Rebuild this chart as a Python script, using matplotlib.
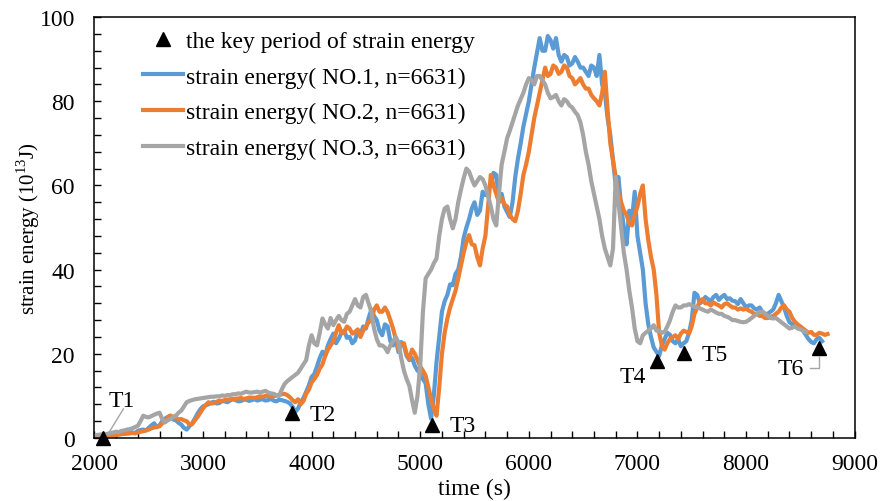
import numpy as np
import matplotlib
matplotlib.use("Agg")
import matplotlib.pyplot as plt
from matplotlib.ticker import MultipleLocator

plt.rcParams['font.family'] = ['Liberation Serif', 'DejaVu Serif']
plt.rcParams['mathtext.fontset'] = 'custom'
plt.rcParams['mathtext.rm'] = 'Liberation Serif'

# strain energy series (10^13 J), sampled every 25 s from t = 2000 s
t_start, t_step = 2000, 25
energy_no1 = [
    0.3, 0.5, 0.6, 0.4, 0.8, 0.9, 1.0, 0.8, 0.9, 1.1, 1.2, 1.0, 1.4, 1.5, 1.3, 1.2, 1.7, 1.9, 2.0, 1.8,
    2.4, 3.0, 3.5, 2.6, 3.0, 4.0, 4.6, 5.0, 5.3, 4.4, 4.2, 3.6, 3.2, 2.4, 2.0, 2.8, 3.5, 4.6, 5.8, 6.8,
    7.5, 7.8, 8.0, 8.4, 8.6, 8.2, 8.3, 8.8, 8.7, 8.5, 8.9, 9.2, 9.0, 8.7, 8.8, 9.1, 9.1, 8.8, 9.0, 9.2,
    8.9, 9.1, 9.2, 8.9, 9.0, 9.3, 8.9, 8.7, 9.1, 9.0, 8.8, 8.6, 8.2, 7.4, 6.2, 7.0, 8.5, 9.5, 11.0, 12.5,
    14.5, 15.2, 17.0, 19.0, 20.5, 19.6, 22.0, 23.5, 24.8, 22.5, 23.6, 25.0, 25.5, 23.8, 24.0, 22.5, 23.2, 25.5, 24.6, 26.5,
    26.0, 28.5, 30.5, 29.0, 28.0, 25.5, 24.4, 27.0, 26.5, 23.0, 22.0, 23.5, 20.4, 22.8, 22.0, 19.5, 18.5, 19.0, 17.2, 16.0,
    15.5, 14.0, 13.0, 8.0, 4.6, 10.0, 18.0, 24.0, 30.0, 32.5, 34.0, 36.5, 36.3, 39.0, 40.0, 43.0, 47.5, 50.0, 52.0, 54.5,
    56.0, 53.0, 54.0, 58.5, 57.7, 59.0, 60.0, 63.0, 62.5, 57.0, 58.0, 55.0, 53.7, 52.5, 56.0, 62.0, 66.4, 70.0, 74.0, 77.0,
    80.0, 84.0, 88.0, 91.5, 95.0, 92.0, 92.0, 95.5, 94.5, 92.5, 95.0, 91.0, 89.4, 91.0, 90.5, 88.5, 89.0, 90.5, 89.4, 88.0,
    88.0, 87.0, 86.0, 88.5, 88.0, 86.0, 91.0, 84.0, 82.0, 76.0, 72.0, 66.0, 60.0, 62.0, 55.0, 50.0, 46.0, 54.0, 52.0, 58.5,
    48.0, 44.0, 40.0, 32.0, 27.0, 24.0, 21.5, 20.5, 19.5, 22.0, 23.5, 25.0, 24.5, 23.0, 22.5, 23.5, 21.8, 22.5, 23.0, 25.0,
    28.0, 34.5, 34.0, 32.0, 32.5, 33.5, 33.0, 32.5, 33.5, 34.0, 32.8, 33.5, 34.0, 33.0, 33.2, 32.6, 32.5, 31.8, 33.0, 32.0,
    31.0, 31.5, 31.5, 30.8, 30.5, 31.0, 30.0, 29.5, 29.5, 30.0, 30.5, 32.0, 34.0, 32.5, 31.0, 29.0, 27.5, 27.0, 26.8, 26.5,
    26.5, 25.5, 24.5, 23.5, 22.8, 22.5, 23.5, 23.8, 23.0,
]
energy_no2 = [
    0.2, 0.3, 0.4, 0.3, 0.5, 0.6, 0.7, 0.6, 0.6, 0.8, 0.9, 1.0, 1.0, 1.1, 1.2, 1.1, 1.3, 1.5, 1.6, 1.8,
    2.0, 2.3, 2.5, 2.6, 2.8, 3.5, 4.0, 4.8, 5.3, 5.0, 4.8, 4.4, 4.5, 4.2, 4.0, 3.2, 3.3, 4.2, 5.0, 6.0,
    7.0, 7.8, 8.5, 8.2, 8.3, 8.6, 8.9, 8.8, 9.0, 9.1, 9.2, 9.3, 9.3, 9.4, 9.5, 9.3, 9.4, 9.6, 9.6, 9.5,
    9.7, 9.9, 9.8, 10.0, 10.0, 9.8, 9.9, 10.1, 10.2, 10.4, 10.5, 10.2, 9.7, 9.0, 8.5, 9.2, 8.0, 8.8, 10.5, 11.5,
    13.2, 14.0, 15.0, 16.5, 17.5, 19.5, 21.0, 22.0, 23.0, 25.0, 26.8, 25.0, 25.0, 26.5, 26.0, 24.8, 25.2, 25.8, 24.0, 25.5,
    26.5, 27.5, 28.0, 30.5, 31.5, 30.0, 30.0, 31.0, 29.9, 28.0, 26.0, 23.5, 21.0, 22.5, 22.5, 20.0, 18.8, 21.0, 20.0, 18.5,
    17.0, 16.0, 14.8, 12.0, 9.3, 7.0, 5.3, 12.0, 20.0, 25.0, 28.4, 31.0, 33.0, 35.0, 37.9, 41.0, 44.0, 46.5, 48.2, 46.0,
    45.8, 43.0, 41.0, 45.0, 48.0, 55.0, 62.5, 60.0, 58.0, 56.0, 57.0, 55.5, 55.0, 53.0, 52.0, 51.5, 54.0, 58.0, 62.5, 65.0,
    68.0, 72.0, 76.0, 79.0, 82.0, 85.0, 88.0, 86.0, 86.5, 88.5, 88.0, 86.5, 87.0, 88.5, 88.0, 86.0, 85.5, 84.0, 84.7, 85.5,
    84.0, 83.0, 83.0, 81.5, 80.7, 80.0, 79.0, 82.0, 87.0, 78.0, 70.0, 66.0, 62.0, 58.0, 56.0, 54.0, 53.0, 51.0, 50.5, 53.0,
    55.0, 58.0, 60.0, 52.0, 47.0, 43.0, 40.0, 34.0, 25.0, 22.0, 21.0, 22.5, 23.5, 24.0, 24.4, 23.5, 24.8, 25.5, 25.2, 24.8,
    26.5, 29.5, 31.0, 32.5, 33.0, 32.0, 32.0, 31.5, 32.2, 31.8, 31.5, 31.0, 31.8, 32.0, 31.5, 31.0, 31.0, 30.5, 30.8, 30.5,
    30.7, 30.3, 30.0, 29.5, 29.5, 29.0, 29.0, 28.5, 28.5, 28.8, 29.0, 29.5, 30.0, 31.0, 31.5, 30.5, 30.0, 28.5, 27.6, 27.0,
    26.5, 26.0, 25.5, 25.0, 25.2, 24.5, 24.5, 25.0, 24.8, 24.5, 24.7,
]
energy_no3 = [
    0.5, 0.7, 0.8, 0.9, 0.9, 1.0, 1.2, 1.3, 1.5, 1.4, 1.7, 1.8, 2.0, 2.1, 2.3, 2.6, 2.9, 4.0, 5.3, 5.0,
    4.9, 5.2, 5.5, 5.8, 6.0, 4.5, 3.7, 4.2, 4.5, 5.0, 5.3, 6.0, 6.5, 7.5, 8.5, 8.8, 9.0, 9.2, 9.3, 9.4,
    9.5, 9.6, 9.7, 9.8, 9.8, 9.9, 9.9, 10.1, 10.0, 10.2, 10.2, 10.4, 10.4, 10.6, 10.5, 10.8, 11.0, 10.8, 10.8, 10.9,
    11.0, 10.8, 11.0, 11.2, 10.8, 10.6, 10.5, 10.2, 10.0, 11.5, 12.8, 13.5, 14.0, 14.5, 15.0, 15.5, 16.5, 17.5, 18.5, 22.0,
    24.4, 22.5, 22.0, 25.0, 28.4, 27.0, 26.0, 28.5, 26.8, 28.0, 29.0, 28.0, 27.6, 29.5, 30.0, 31.5, 33.0, 31.5, 31.0, 33.5,
    34.0, 32.0, 30.0, 26.0, 23.5, 22.0, 22.0, 21.5, 20.4, 22.0, 23.0, 24.0, 22.7, 19.0, 16.0, 14.0, 12.4, 9.0, 6.0, 10.0,
    17.2, 30.0, 37.9, 39.0, 40.0, 41.5, 42.6, 48.0, 52.0, 54.5, 55.0, 52.0, 49.8, 52.0, 56.0, 59.0, 61.7, 64.0, 63.3, 61.5,
    60.0, 61.0, 62.0, 61.5, 60.0, 57.5, 55.0, 52.0, 50.5, 58.0, 65.0, 68.0, 71.2, 73.0, 75.0, 77.0, 79.0, 80.5, 82.0, 84.0,
    85.5, 85.0, 84.0, 86.0, 86.0, 85.0, 84.0, 82.0, 80.7, 81.0, 81.5, 80.0, 79.0, 80.5, 80.0, 79.0, 78.5, 77.5, 76.7, 75.0,
    72.0, 68.0, 65.0, 61.0, 58.0, 55.0, 52.0, 48.0, 45.0, 43.0, 41.0, 45.0, 62.0, 56.0, 50.0, 44.0, 40.0, 35.0, 31.0, 26.0,
    23.0, 22.5, 24.4, 25.0, 25.5, 26.0, 26.8, 25.5, 25.5, 25.0, 25.2, 26.5, 28.0, 30.0, 31.5, 31.0, 31.0, 31.5, 31.5, 31.8,
    31.5, 31.2, 31.0, 30.8, 30.5, 30.2, 30.0, 30.5, 30.2, 29.8, 29.5, 29.5, 29.0, 28.8, 28.5, 28.0, 28.0, 27.8, 27.6, 27.5,
    27.6, 28.0, 28.5, 29.0, 29.5, 30.0, 30.0, 29.5, 29.0, 28.5, 28.4, 28.5, 28.0, 27.5, 27.0, 26.5, 26.0, 26.2, 26.5, 26.0,
    25.8, 25.5, 25.2,
]

# key periods of strain energy
key_time = [2075, 3815, 5105, 7180, 7430, 8670]
key_energy = [0.0, 6.0, 3.0, 18.3, 20.2, 21.4]
key_labels = ["T1", "T2", "T3", "T4", "T5", "T6"]
key_label_pos = [(2249, 8.8), (4101, 5.5), (5392, 2.9),
                 (6959, 14.5), (7714, 19.8), (8415, 16.4)]

series_labels = ["strain energy( NO.1, n=6631)",
                 "strain energy( NO.2, n=6631)",
                 "strain energy( NO.3, n=6631)"]
series_colors = ["#5B9BD5", "#ED7D31", "#A5A5A5"]

fig = plt.figure(figsize=(8.82, 5.02), dpi=100)
ax = fig.add_axes([0.107, 0.1255, 0.862, 0.8385])

fs = 17
handles = []
for vals, lab, col in zip([energy_no1, energy_no2, energy_no3], series_labels, series_colors):
    t = t_start + t_step * np.arange(len(vals))
    h, = ax.plot(t, vals, color=col, lw=3.0, label=lab, solid_joinstyle='round')
    handles.append(h)

mk, = ax.plot(key_time, key_energy, linestyle='none', marker='^', color='black',
              markersize=10, clip_on=False, zorder=5,
              label="the key period of strain energy")

for lab, (tx, ty) in zip(key_labels, key_label_pos):
    ax.text(tx, ty, lab, fontsize=fs, ha='center', va='center')

# leader lines for T1 and T6
ax.plot([2120, 2267], [0.7, 6.9], color="#A5A5A5", lw=1.0)
ax.plot([8673, 8673, 8585], [19.3, 16.7, 16.7], color="#A5A5A5", lw=1.0)

ax.set_xlim(2000, 9000)
ax.set_ylim(0, 100)
ax.xaxis.set_major_locator(MultipleLocator(1000))
ax.xaxis.set_minor_locator(MultipleLocator(200))
ax.yaxis.set_major_locator(MultipleLocator(20))
ax.yaxis.set_minor_locator(MultipleLocator(4))
ax.tick_params(axis='both', which='both', direction='in', length=5, width=1.0,
               labelsize=fs)
ax.tick_params(axis='x', which='both', pad=11)
ax.tick_params(axis='y', which='both', pad=14)
for s in ax.spines.values():
    s.set_linewidth(1.1)

ax.set_xlabel("time (s)", fontsize=fs, va='center')
ax.xaxis.set_label_coords(0.5, -0.121)
ax.set_ylabel("strain energy (10$^{13}$J)", fontsize=15, va='center')
ax.yaxis.set_label_coords(-0.087, 0.5)

leg = ax.legend(handles=[mk] + handles, loc='upper left', frameon=False,
                fontsize=fs, bbox_to_anchor=(0.064, 0.968), handlelength=1.7,
                handletextpad=0.1, labelspacing=0.6, borderaxespad=0.0,
                borderpad=0.0)

fig.savefig("out.png", dpi=100)
